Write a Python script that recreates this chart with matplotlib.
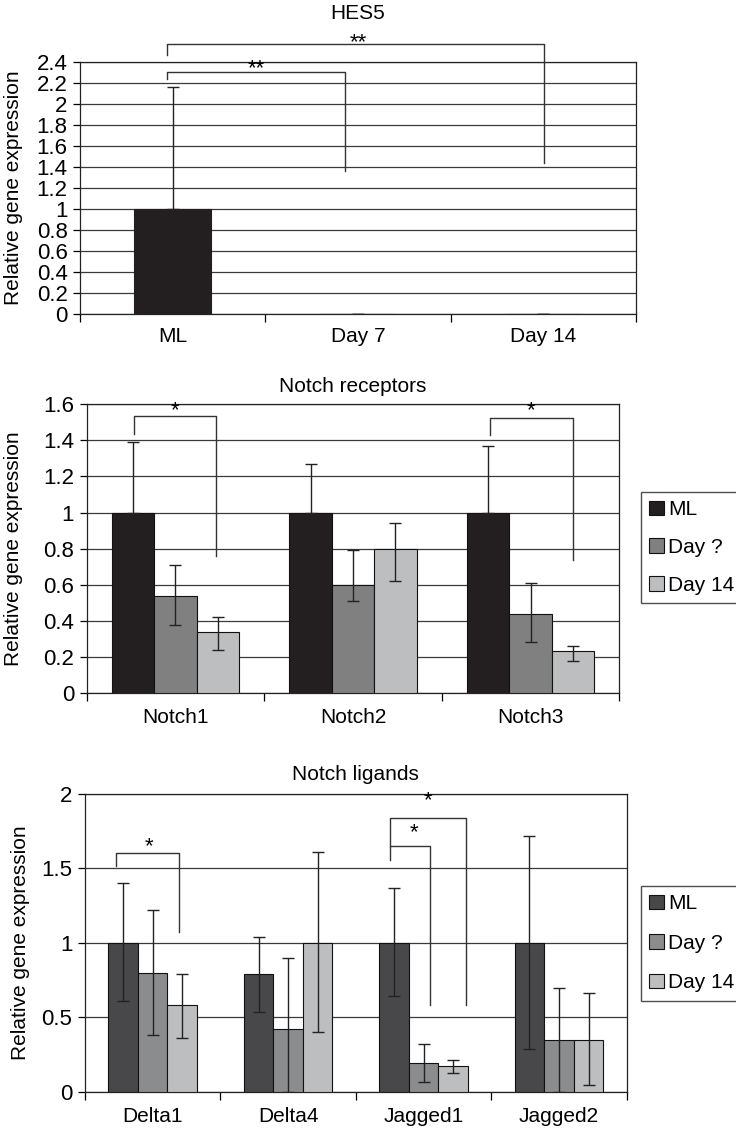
import matplotlib
matplotlib.use('Agg')
import matplotlib.pyplot as plt
from matplotlib.ticker import MultipleLocator, FixedLocator, FuncFormatter
from matplotlib.patches import Patch
import numpy as np

plt.rcParams['font.family'] = ['Liberation Sans', 'DejaVu Sans']
plt.rcParams['font.size'] = 15

series = ['ML', 'Day ?', 'Day 14']

# HES5
hes5_groups = ['ML', 'Day 7', 'Day 14']
hes5_vals = [1.0, 0.0, 0.0]
hes5_hi = [2.16, 0.0, 0.0]

# Notch receptors
rec_groups = ['Notch1', 'Notch2', 'Notch3']
rec_ml = [1.0, 1.0, 1.0]
rec_ml_hi = [1.39, 1.27, 1.37]
rec_d7 = [0.54, 0.60, 0.44]
rec_d7_lo = [0.375, 0.51, 0.28]
rec_d7_hi = [0.71, 0.79, 0.61]
rec_d14 = [0.34, 0.80, 0.23]
rec_d14_lo = [0.24, 0.62, 0.18]
rec_d14_hi = [0.42, 0.94, 0.26]

# Notch ligands
lig_groups = ['Delta1', 'Delta4', 'Jagged1', 'Jagged2']
lig_ml = [1.0, 0.79, 1.0, 1.0]
lig_ml_lo = [0.61, 0.535, 0.645, 0.29]
lig_ml_hi = [1.40, 1.04, 1.37, 1.72]
lig_d7 = [0.80, 0.42, 0.195, 0.35]
lig_d7_lo = [0.38, 0.0, 0.067, 0.0]
lig_d7_hi = [1.22, 0.90, 0.32, 0.70]
lig_d14 = [0.58, 1.0, 0.175, 0.35]
lig_d14_lo = [0.36, 0.40, 0.123, 0.045]
lig_d14_hi = [0.79, 1.61, 0.21, 0.665]

# significance brackets: (x_left, y_left_bottom, y_top, x_right, y_right_bottom, x_star, y_star, label)
hes5_brackets = [(-0.03, 2.24, 2.305, 0.93, 1.36, 0.45, 2.40, '**'),
                 (-0.03, 2.47, 2.57, 2.005, 1.44, 1.0, 2.65, '**')]
rec_brackets = [(-0.234, 1.438, 1.537, 0.228, 0.757, 0.0, 1.60, '*'),
                (2 - 0.23, 1.429, 1.522, 2.24, 0.735, 2.0, 1.60, '*')]
lig_brackets = [(-0.273, 1.516, 1.606, 0.196, 1.073, -0.03, 1.69, '*'),
                (2 - 0.248, 1.557, 1.65, 2.05, 0.58, 2 - 0.068, 1.78, '*'),
                (2 - 0.248, 1.65, 1.837, 2.31, 0.58, 2.03, 2.0, '*')]

fig = plt.figure(figsize=(7.36, 11.28), dpi=100)

GRID = '#3a3a3a'


def style_axes(ax, groups, ymax, ystep, title, title_pad, lab_x, xpad):
    n = len(groups)
    ax.set_xlim(-0.5, n - 0.5)
    ax.set_ylim(0, ymax)
    ax.yaxis.set_major_locator(MultipleLocator(ystep))
    ax.yaxis.set_major_formatter(FuncFormatter(lambda v, p: '%g' % round(v, 2)))
    ax.set_axisbelow(True)
    ax.yaxis.grid(True, color=GRID, lw=0.9)
    ax.xaxis.set_major_locator(FixedLocator(np.arange(n + 1) - 0.5))
    ax.xaxis.set_major_formatter(FuncFormatter(lambda v, p: ''))
    ax.xaxis.set_minor_locator(FixedLocator(np.arange(n)))
    ax.set_xticklabels(groups, minor=True)
    ax.tick_params(axis='x', which='major', length=6, width=0.9, direction='out')
    ax.tick_params(axis='x', which='minor', length=0, pad=xpad, labelsize=15)
    ax.tick_params(axis='y', length=5, width=0.9, direction='out', pad=4, labelsize=16)
    for s in ax.spines.values():
        s.set_linewidth(0.9)
        s.set_color('#222222')
    ax.set_title(title, fontsize=15, pad=title_pad)
    ax.set_ylabel('Relative gene expression', fontsize=15)
    ax.yaxis.set_label_coords(lab_x, 0.5)


def draw_brackets(ax, brackets, offset):
    for xl, yl, yt, xr, yr, xs, ys, lab in brackets:
        ax.plot([xl, xl, xr, xr], [yl, yt, yt, yr], color='#333333', lw=1.0,
                clip_on=False, zorder=4)
        ax.annotate(lab, (xs, ys), xytext=(0, offset), textcoords='offset points',
                    ha='center', va='baseline', fontsize=16, zorder=5,
                    annotation_clip=False)


def err(vals, lo, hi):
    v = np.array(vals)
    return [v - np.array(lo), np.array(hi) - v]


ekw = dict(ecolor='#222222', elinewidth=1.0, capsize=4, capthick=1.0)

# ---- HES5
ax1 = fig.add_axes([80 / 736, 1 - 314 / 1128, 556 / 736, 251.7 / 1128])
x = np.arange(3)
ax1.bar(x, hes5_vals, 0.415, color='#231f20', edgecolor='#231f20', lw=0.8,
        yerr=[np.zeros(3), np.array(hes5_hi) - np.array(hes5_vals)], error_kw=ekw, zorder=3)
style_axes(ax1, hes5_groups, 2.4, 0.2, 'HES5', 31, -0.1025, 9)
draw_brackets(ax1, hes5_brackets, -8.5)

# ---- Notch receptors
c_rec = ['#231f20', '#808080', '#bdbec0']
ax2 = fig.add_axes([86.7 / 736, 1 - 693 / 1128, 532.6 / 736, 288.7 / 1128])
x = np.arange(3)
w = 0.239
ax2.bar(x - w, rec_ml, w, color=c_rec[0], edgecolor='#111111', lw=0.8, label=series[0],
        yerr=err(rec_ml, rec_ml, rec_ml_hi), error_kw=ekw, zorder=3)
ax2.bar(x, rec_d7, w, color=c_rec[1], edgecolor='#111111', lw=0.8, label=series[1],
        yerr=err(rec_d7, rec_d7_lo, rec_d7_hi), error_kw=ekw, zorder=3)
ax2.bar(x + w, rec_d14, w, color=c_rec[2], edgecolor='#111111', lw=0.8, label=series[2],
        yerr=err(rec_d14, rec_d14_lo, rec_d14_hi), error_kw=ekw, zorder=3)
style_axes(ax2, rec_groups, 1.6, 0.2, 'Notch receptors', 9, -0.1196, 11)
draw_brackets(ax2, rec_brackets, -8.5)

# ---- Notch ligands
c_lig = ['#48484a', '#8b8c8e', '#bdbec0']
ax3 = fig.add_axes([85 / 736, 1 - 1091.7 / 1128, 541.7 / 736, 297.7 / 1128])
x = np.arange(4)
w = 0.218
ax3.bar(x - w, lig_ml, w, color=c_lig[0], edgecolor='#111111', lw=0.8, label=series[0],
        yerr=err(lig_ml, lig_ml_lo, lig_ml_hi), error_kw=ekw, zorder=3)
ax3.bar(x, lig_d7, w, color=c_lig[1], edgecolor='#111111', lw=0.8, label=series[1],
        yerr=err(lig_d7, lig_d7_lo, lig_d7_hi), error_kw=ekw, zorder=3)
ax3.bar(x + w, lig_d14, w, color=c_lig[2], edgecolor='#111111', lw=0.8, label=series[2],
        yerr=err(lig_d14, lig_d14_lo, lig_d14_hi), error_kw=ekw, zorder=3)
style_axes(ax3, lig_groups, 2.0, 0.5, 'Notch ligands', 10, -0.1015, 11)
draw_brackets(ax3, lig_brackets, -8.5)


def add_legend(colors, top_px, spacing):
    handles = [Patch(facecolor=c, edgecolor='#111111', lw=0.8) for c in colors]
    leg = fig.legend(handles, series, loc='upper left',
                     bbox_to_anchor=(641 / 736, 1 - top_px / 1128),
                     frameon=True, fancybox=False, fontsize=15, handlelength=0.7,
                     handleheight=0.7, handletextpad=0.2, labelspacing=spacing,
                     borderpad=0.4, borderaxespad=0)
    leg.get_frame().set_edgecolor('#222222')
    leg.get_frame().set_linewidth(1.0)


add_legend(c_rec, 492, 0.9)
add_legend(c_lig, 886, 0.98)

plt.savefig('out.png', dpi=100)
